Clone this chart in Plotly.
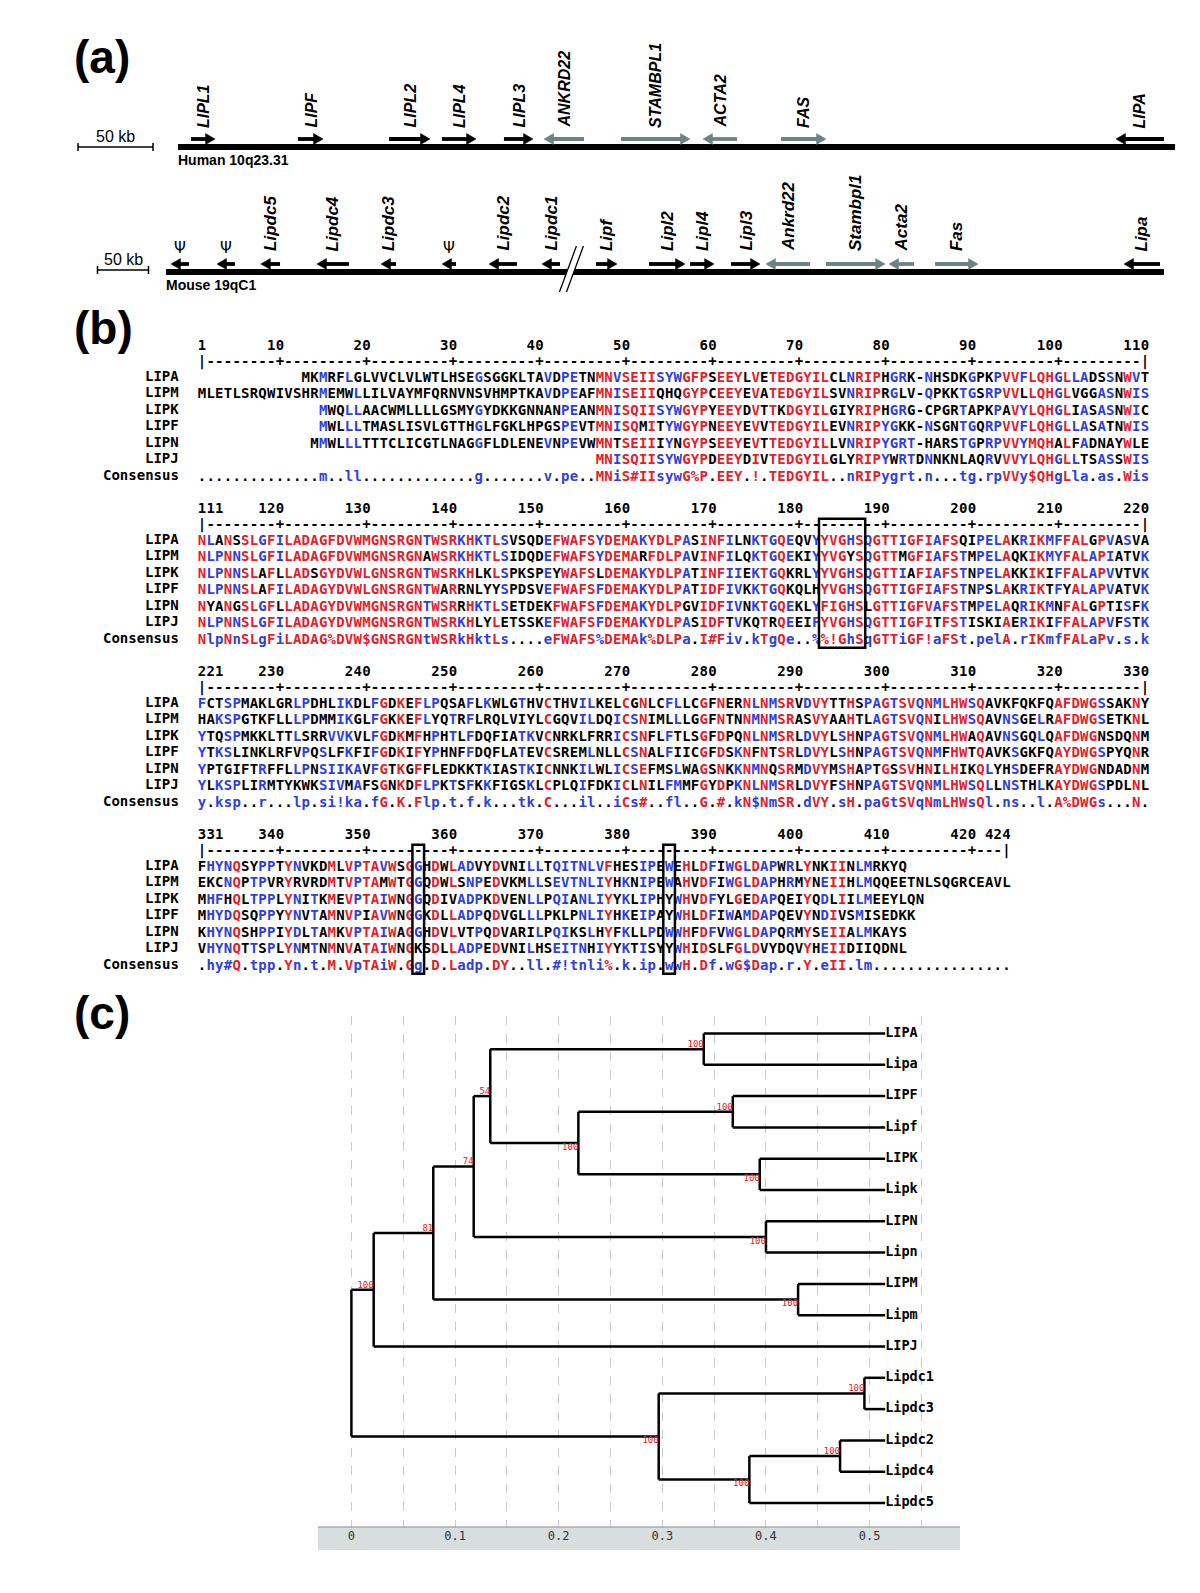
import plotly.graph_objects as go

FIG_W, FIG_H = 1200, 1593

# ======================= Panel (a): gene maps =======================
HUMAN_GENES = ["LIPL1", "LIPF", "LIPL2", "LIPL4", "LIPL3", "ANKRD22", "STAMBPL1", "ACTA2", "FAS", "LIPA"]
HUMAN_START_KB = [8.7, 80.0, 140.7, 176.0, 217.3, 244.0, 295.3, 350.0, 402.0, 625.3]
HUMAN_END_KB = [24.7, 96.7, 168.0, 198.7, 236.7, 270.7, 341.3, 372.7, 432.0, 657.3]
HUMAN_STRAND = ["+", "+", "+", "+", "+", "-", "+", "-", "+", "-"]
HUMAN_FLANKING = [False, False, False, False, False, True, True, True, True, False]
HUMAN_LENGTH_KB = 664.7

MOUSE_GENES = ["Ψ", "Ψ", "Lipdc5", "Lipdc4", "Lipdc3", "Ψ", "Lipdc2", "Lipdc1", "Lipf", "Lipl2",
               "Lipl4", "Lipl3", "Ankrd22", "Stambpl1", "Acta2", "Fas", "Lipa"]
MOUSE_START_KB = [4.9, 50.0, 93.0, 148.0, 210.8, 270.6, 316.7, 368.6, 421.6, 473.5,
                  513.7, 554.0, 588.2, 647.1, 708.8, 754.0, 939.2]
MOUSE_END_KB = [22.5, 67.6, 111.8, 179.4, 225.5, 284.3, 344.1, 386.3, 442.2, 508.8,
                537.3, 582.4, 631.4, 705.0, 733.3, 796.1, 974.5]
MOUSE_STRAND = ["-", "-", "-", "-", "-", "-", "-", "-", "+", "+", "+", "+", "-", "+", "-", "+", "-"]
MOUSE_FLANKING = [False] * 12 + [True, True, True, True, False]
MOUSE_LENGTH_KB = 978.4
MOUSE_BREAK_KB = 397.0
SCALE_BAR_KB = 50

# ======================= Panel (b): alignment =======================
SEQ_NAMES = ["LIPA", "LIPM", "LIPK", "LIPF", "LIPN", "LIPJ"]
SEQ_FIRST_COL = [13, 1, 15, 15, 14, 47]
BLOCK_STARTS = [1, 111, 221, 331]
BLOCK_ENDS = [110, 220, 330, 424]

LIPA_SEQ = [
    "MKMRFLGLVVCLVLWTLHSEGSGGKLTAVDPETNMNVSEIISYWGFPSEEYLVETEDGYILCLNRIPHGRK-NHSDKGPKPVVFLQHGLLADSSNWVT",
    "NLANSSLGFILADAGFDVWMGNSRGNTWSRKHKTLSVSQDEFWAFSYDEMAKYDLPASINFILNKTGQEQVYYVGHSQGTTIGFIAFSQIPELAKRIKMFFALGPVASVA",
    "FCTSPMAKLGRLPDHLIKDLFGDKEFLPQSAFLKWLGTHVCTHVILKELCGNLCFLLCGFNERNLNMSRVDVYTTHSPAGTSVQNMLHWSQAVKFQKFQAFDWGSSAKNY",
    "FHYNQSYPPTYNVKDMLVPTAVWSGGHDWLADVYDVNILLTQITNLVFHESIPEWEHLDFIWGLDAPWRLYNKIINLMRKYQ",
]
LIPM_SEQ = [
    "MLETLSRQWIVSHRMEMWLLILVAYMFQRNVNSVHMPTKAVDPEAFMNISEIIQHQGYPCEEYEVATEDGYILSVNRIPRGLV-QPKKTGSRPVVLLQHGLVGGASNWIS",
    "NLPNNSLGFILADAGFDVWMGNSRGNAWSRKHKTLSIDQDEFWAFSYDEMARFDLPAVINFILQKTGQEKIYYVGYSQGTTMGFIAFSTMPELAQKIKMYFALAPIATVK",
    "HAKSPGTKFLLLPDMMIKGLFGKKEFLYQTRFLRQLVIYLCGQVILDQICSNIMLLLGGFNTNNMNMSRASVYAAHTLAGTSVQNILHWSQAVNSGELRAFDWGSETKNL",
    "EKCNQPTPVRYRVRDMTVPTAMWTGGQDWLSNPEDVKMLLSEVTNLIYHKNIPEWAHVDFIWGLDAPHRMYNEIIHLMQQEETNLSQGRCEAVL",
]
LIPK_SEQ = [
    "MWQLLAACWMLLLLGSMYGYDKKGNNANPEANMNISQIISYWGYPYEEYDVTTKDGYILGIYRIPHGRG-CPGRTAPKPAVYLQHGLIASASNWIC",
    "NLPNNSLAFLLADSGYDVWLGNSRGNTWSRKHLKLSPKSPEYWAFSLDEMAKYDLPATINFIIEKTGQKRLYYVGHSQGTTIAFIAFSTNPELAKKIKIFFALAPVVTVK",
    "YTQSPMKKLTTLSRRVVKVLFGDKMFHPHTLFDQFIATKVCNRKLFRRICSNFLFTLSGFDPQNLNMSRLDVYLSHNPAGTSVQNMLHWAQAVNSGQLQAFDWGNSDQNM",
    "MHFHQLTPPLYNITKMEVPTAIWNGGQDIVADPKDVENLLPQIANLIYYKLIPHYWHVDFYLGEDAPQEIYQDLIILMEEYLQN",
]
LIPF_SEQ = [
    "MWLLLTMASLISVLGTTHGLFGKLHPGSPEVTMNISQMITYWGYPNEEYEVVTEDGYILEVNRIPYGKK-NSGNTGQRPVVFLQHGLLASATNWIS",
    "NLPNNSLAFILADAGYDVWLGNSRGNTWARRNLYYSPDSVEFWAFSFDEMAKYDLPATIDFIVKKTGQKQLHYVGHSQGTTIGFIAFSTNPSLAKRIKTFYALAPVATVK",
    "YTKSLINKLRFVPQSLFKFIFGDKIFYPHNFFDQFLATEVCSREMLNLLCSNALFIICGFDSKNFNTSRLDVYLSHNPAGTSVQNMFHWTQAVKSGKFQAYDWGSPYQNR",
    "MHYDQSQPPYYNVTAMNVPIAVWNGGKDLLADPQDVGLLLPKLPNLIYHKEIPAYWHLDFIWAMDAPQEVYNDIVSMISEDKK",
]
LIPN_SEQ = [
    "MMWLLLTTTCLICGTLNAGGFLDLENEVNPEVWMNTSEIIIYNGYPSEEYEVTTEDGYILLVNRIPYGRT-HARSTGPRPVVYMQHALFADNAYWLE",
    "NYANGSLGFLLADAGYDVWMGNSRGNTWSRRHKTLSETDEKFWAFSFDEMAKYDLPGVIDFIVNKTGQEKLYFIGHSLGTTIGFVAFSTMPELAQRIKMNFALGPTISFK",
    "YPTGIFTRFFLLPNSIIKAVFGTKGFFLEDKKTKIASTKICNNKILWLICSEFMSLWAGSNKKNMNQSRMDVYMSHAPTGSSVHNILHIKQLYHSDEFRAYDWGNDADNM",
    "KHYNQSHPPIYDLTAMKVPTAIWAGGHDVLVTPQDVARILPQIKSLHYFKLLPDWWHFDFVWGLDAPQRMYSEIIALMKAYS",
]
LIPJ_SEQ = [
    "MNISQIISYWGYPDEEYDIVTEDGYILGLYRIPYWRTDNNKNLAQRVVVYLQHGLLTSASSWIS",
    "NLPNNSLGFILADAGYDVWMGNSRGNTWSRKHLYLETSSKEFWAFSFDEMAKYDLPASIDFTVKQTRQEEIFYVGHSQGTTIGFITFSTISKIAERIKIFFALAPVFSTK",
    "YLKSPLIRMTYKWKSIVMAFSGNKDFLPKTSFKKFIGSKLCPLQIFDKICLNILFMMFGYDPKNLNMSRLDVYFSHNPAGTSVQNMLHWSQLLNSTHLKAYDWGSPDLNL",
    "VHYNQTTSPLYNMTNMNVATAIWNGKSDLLADPEDVNILHSEITNHIYYKTISYYWHIDSLFGLDVYDQVYHEIIDIIQDNL",
]
SEQ_BLOCKS = [LIPA_SEQ, LIPM_SEQ, LIPK_SEQ, LIPF_SEQ, LIPN_SEQ, LIPJ_SEQ]
CONSENSUS_BLOCKS = [
    "." * 14 + "m..ll" + "." * 13 + "g" + "." * 7 + "v.pe.."
    + "MNiS#IIsywG%P.EEY.!.TEDGYIL..nRIPygrt.n...tg.rpVVy$QHgLla.as.Wis",
    "NlpNnSLgFiLADAG%DVW$GNSRGNtWSRkHktLs....eFWAFS%DEM"
    + "Ak%DLPa.I#Fiv.kTgQe..%%!GhSqGTTiGF!aFSt.pelA.rIKmfFALaPv.s.k",
    "y.ksp..r...lp.si!ka.fG.K.Flp.t.f.k...tk.C...il..iCs#..fl..G.#.kN$NmSR.dVY.sH.paGtSVqNmLHWsQl.ns..l.A%DWGs...N.",
    ".hy#Q.tpp.Yn.t.M.VpTAiW.Gg.D.Ladp.DY..ll.#!tnli%.k.ip.wwH.Df.wG$Dap.r.Y.eII.lm" + "." * 16,
]
BOXED_COLUMNS = [(183, 187), (356, 356), (385, 385)]
CONSENSUS_CLASSES = {"!": "IV", "$": "LM", "%": "FY", "#": "NDQE"}

# ======================= Panel (c): tree =======================
LEAVES = ["LIPA", "Lipa", "LIPF", "Lipf", "LIPK", "Lipk", "LIPN", "Lipn", "LIPM", "Lipm",
          "LIPJ", "Lipdc1", "Lipdc3", "Lipdc2", "Lipdc4", "Lipdc5"]
LEAF_DEPTH = 0.515
NODE_NAMES = ["A", "F", "K", "FK", "AFK", "N", "AFKN", "M", "AFKNM", "J",
              "dc13", "dc24", "dc245", "dc", "root"]
NODE_CHILDREN = [["LIPA", "Lipa"], ["LIPF", "Lipf"], ["LIPK", "Lipk"], ["F", "K"], ["A", "FK"],
                 ["LIPN", "Lipn"], ["AFK", "N"], ["LIPM", "Lipm"], ["AFKN", "M"], ["AFKNM", "LIPJ"],
                 ["Lipdc1", "Lipdc3"], ["Lipdc2", "Lipdc4"], ["dc24", "Lipdc5"], ["dc13", "dc245"], ["J", "dc"]]
NODE_DEPTH = [0.340, 0.368, 0.394, 0.219, 0.134, 0.400, 0.118, 0.431, 0.079, 0.0215,
              0.495, 0.4715, 0.384, 0.2965, 0.0]
NODE_SUPPORT = [100, 100, 100, 100, 54, 100, 74, 100, 81, 100, 100, 100, 100, 100, None]
DIST_TICKS = [0, 0.05, 0.1, 0.15, 0.2, 0.25, 0.3, 0.35, 0.4, 0.45, 0.5, 0.55]
DIST_TICK_TEXT = ["0", "", "0.1", "", "0.2", "", "0.3", "", "0.4", "", "0.5", ""]

# ======================= styling / layout constants =======================
RED = "#e3202a"
BLUE = "#2d3fdc"
BLACK = "#000000"
GRAY = "#6b8384"
SANS = "Liberation Sans, Arial, sans-serif"
MONO = "DejaVu Sans Mono, monospace"

HUMAN_X0_PX, HUMAN_PX_PER_KB = 178.0, 1.5
MOUSE_X0_PX, MOUSE_PX_PER_KB = 166.0, 1.02
HUMAN_LINE_Y, HUMAN_ARROW_Y, HUMAN_LABEL_Y = 147, 139, 130
MOUSE_LINE_Y, MOUSE_ARROW_Y, MOUSE_LABEL_Y = 272, 264, 253
HEAD_LEN_PX, HEAD_HALF_PX, SHAFT_W = 9.5, 5.5, 3.8

CW, X_COL0 = 8.65, 202.0
ROW0_Y, BLOCK_DY, ROW_DY = 376.0, 163.0, 16.45
SEQ_FONT = 14
TEXT_DY = 2.5

TREE_X0_PX, TREE_PX_PER_UNIT = 351.4, 1036.4
TREE_LEFT_PX, TREE_RIGHT_PX = 318.0, 960.0
TREE_TOP_PX, TREE_BOTTOM_PX, BAR_BOTTOM_PX = 1016.0, 1527.0, 1550.0
LEAF0_Y_PX, LEAF_DY_PX = 1033.5, 31.3

fig = go.Figure()
shapes = []
annotations = []

# ---------------- panel labels ----------------
for lab, ypx in [("(a)", 57), ("(b)", 328), ("(c)", 1013)]:
    annotations.append(dict(x=72, y=ypx, xref="x", yref="y", text=lab, showarrow=False,
                            xanchor="left", yanchor="middle",
                            font=dict(family=SANS, size=46, color=BLACK, weight="bold")))


# ---------------- gene maps ----------------
def draw_map(axis, x0px, ppk, genes, starts, ends, strands, flank, length, line_y, arrow_y, label_y,
             label_size, bar_px, bar_y, chrom_text, chrom_y):
    fig.add_trace(go.Scatter(x=[0, length], y=[line_y, line_y], xaxis=axis, yaxis="y", mode="lines",
                             line=dict(color=BLACK, width=6), hoverinfo="skip", showlegend=False))
    head = HEAD_LEN_PX / ppk
    for g, s, e, st, fl in zip(genes, starts, ends, strands, flank):
        col = GRAY if fl else BLACK
        if st == "+":
            tail, tip, d = s, e, 1
        else:
            tail, tip, d = e, s, -1
        base = tip - d * head
        shapes.append(dict(type="line", xref=axis, yref="y", x0=tail, x1=base + d * 1.0 / ppk,
                           y0=arrow_y, y1=arrow_y, line=dict(color=col, width=SHAFT_W)))
        shapes.append(dict(type="path", xref=axis, yref="y",
                           path=f"M{tip},{arrow_y} L{base},{arrow_y - HEAD_HALF_PX} L{base},{arrow_y + HEAD_HALF_PX} Z",
                           fillcolor=col, line=dict(color=col, width=0.5)))
        mid = (s + e) / 2
        if g == "Ψ":
            annotations.append(dict(x=mid, y=label_y - 5, xref=axis, yref="y", text="Ψ", showarrow=False,
                                    xanchor="center", yanchor="middle",
                                    font=dict(family="DejaVu Sans, sans-serif", size=15, color=BLACK)))
        else:
            annotations.append(dict(x=mid, y=label_y, xref=axis, yref="y", text=g, showarrow=False,
                                    textangle=-90, xanchor="center", yanchor="bottom",
                                    font=dict(family=SANS, size=label_size, color=BLACK,
                                              weight="bold", style="italic")))
    # scale bar (50 kb)
    bar0 = (bar_px - x0px) / ppk
    bar1 = bar0 + SCALE_BAR_KB
    shapes.append(dict(type="line", xref=axis, yref="y", x0=bar0, x1=bar1, y0=bar_y, y1=bar_y,
                       line=dict(color=BLACK, width=1.5)))
    for xb in (bar0, bar1):
        shapes.append(dict(type="line", xref=axis, yref="y", x0=xb, x1=xb, y0=bar_y - 4, y1=bar_y + 4,
                           line=dict(color=BLACK, width=1.5)))
    annotations.append(dict(x=(bar0 + bar1) / 2, y=bar_y - 11, xref=axis, yref="y", text="50 kb",
                            showarrow=False, xanchor="center", yanchor="middle",
                            font=dict(family=SANS, size=16, color=BLACK)))
    annotations.append(dict(x=-2.0 / ppk, y=chrom_y, xref=axis, yref="y", text=chrom_text, showarrow=False,
                            xanchor="left", yanchor="middle",
                            font=dict(family=SANS, size=14, color=BLACK, weight="bold")))


draw_map("x3", HUMAN_X0_PX, HUMAN_PX_PER_KB, HUMAN_GENES, HUMAN_START_KB, HUMAN_END_KB, HUMAN_STRAND,
         HUMAN_FLANKING, HUMAN_LENGTH_KB, HUMAN_LINE_Y, HUMAN_ARROW_Y, HUMAN_LABEL_Y, 16,
         78.0, 147, "Human 10q23.31", 160)
draw_map("x4", MOUSE_X0_PX, MOUSE_PX_PER_KB, MOUSE_GENES, MOUSE_START_KB, MOUSE_END_KB, MOUSE_STRAND,
         MOUSE_FLANKING, MOUSE_LENGTH_KB, MOUSE_LINE_Y, MOUSE_ARROW_Y, MOUSE_LABEL_Y, 17,
         97.5, 270, "Mouse 19qC1", 285)

# break mark "//" on the mouse map
dx_top, dx_bot = 9.0 / MOUSE_PX_PER_KB, -8.0 / MOUSE_PX_PER_KB
gap = 7.0 / MOUSE_PX_PER_KB
bk = MOUSE_BREAK_KB
shapes.append(dict(type="path", xref="x4", yref="y",
                   path=(f"M{bk + dx_bot - gap / 2},{MOUSE_LINE_Y + 20} L{bk + dx_top - gap / 2},{MOUSE_LINE_Y - 26} "
                         f"L{bk + dx_top + gap / 2},{MOUSE_LINE_Y - 26} L{bk + dx_bot + gap / 2},{MOUSE_LINE_Y + 20} Z"),
                   fillcolor="white", line=dict(width=0)))
for off in (-gap / 2, gap / 2):
    shapes.append(dict(type="line", xref="x4", yref="y", x0=bk + dx_bot + off, x1=bk + dx_top + off,
                       y0=MOUSE_LINE_Y + 20, y1=MOUSE_LINE_Y - 26, line=dict(color=BLACK, width=1.3)))

# ---------------- alignment ----------------
TOTAL = BLOCK_ENDS[-1]
aligned = []
for first, blocks in zip(SEQ_FIRST_COL, SEQ_BLOCKS):
    arr = [" "] * TOTAL
    for bi, s in enumerate(blocks):
        start = first if bi == 0 else BLOCK_STARTS[bi]
        for k, ch in enumerate(s):
            c = start + k
            if c <= BLOCK_ENDS[bi]:
                arr[c - 1] = ch
    aligned.append(arr)

consensus = [" "] * TOTAL
for bi, s in enumerate(CONSENSUS_BLOCKS):
    for k, ch in enumerate(s):
        c = BLOCK_STARTS[bi] + k
        if c <= BLOCK_ENDS[bi]:
            consensus[c - 1] = ch


def column_level(c):
    ch = consensus[c - 1]
    if ch in (".", " "):
        return None
    if ch in CONSENSUS_CLASSES:
        members = CONSENSUS_CLASSES[ch]
        return "high" if all(a[c - 1] in members for a in aligned) else "low"
    return "high" if ch.isupper() else "low"


def residue_color(r, c):
    cons = consensus[c - 1]
    lv = column_level(c)
    if lv is None or not r.isalpha():
        return BLACK
    colr = RED if lv == "high" else BLUE
    if cons in CONSENSUS_CLASSES:
        return colr if r in CONSENSUS_CLASSES[cons] else BLACK
    if r == cons.upper():
        return colr
    if cons.islower():
        for mem in CONSENSUS_CLASSES.values():
            if cons.upper() in mem and r in mem:
                return colr
    return BLACK


pts = {BLACK: ([], [], []), RED: ([], [], []), BLUE: ([], [], [])}


def put(color, x, y, ch):
    if ch == " ":
        return
    pts[color][0].append(x)
    pts[color][1].append(y + TEXT_DY)
    pts[color][2].append(ch)


for bi, (bs, be) in enumerate(zip(BLOCK_STARTS, BLOCK_ENDS)):
    y0 = ROW0_Y + bi * BLOCK_DY
    ruler_y = y0 - 16.3
    num_y = y0 - 32.5

    def colx(c):
        return X_COL0 + (c - bs) * CW

    labels = [(bs, str(bs), "left")]
    for c in range(bs + 1, be + 1):
        if c % 10 == 0 or c == be:
            labels.append((c, str(c), "right"))
    for c, s, al in labels:
        for k, ch in enumerate(s):
            cc = c + k if al == "left" else c - (len(s) - 1 - k)
            put(BLACK, colx(cc), num_y, ch)
    for c in range(bs, be + 1):
        ch = "|" if c in (bs, be) else ("+" if c % 10 == 0 else "-")
        put(BLACK, colx(c), ruler_y, ch)
    for si, arr in enumerate(aligned):
        ry = y0 + si * ROW_DY
        for c in range(bs, be + 1):
            put(residue_color(arr[c - 1], c), colx(c), ry, arr[c - 1])
    cy = y0 + len(aligned) * ROW_DY
    for c in range(bs, be + 1):
        lv = column_level(c)
        put(BLACK if lv is None else (RED if lv == "high" else BLUE), colx(c), cy, consensus[c - 1])
    for si, name in enumerate(SEQ_NAMES + ["Consensus"]):
        annotations.append(dict(x=181, y=y0 + si * ROW_DY, xref="x", yref="y", text=name, showarrow=False,
                                xanchor="right", yanchor="middle",
                                font=dict(family=MONO, size=14, color=BLACK, weight="bold")))
    for (c0, c1) in BOXED_COLUMNS:
        if bs <= c0 <= be:
            shapes.append(dict(type="rect", xref="x", yref="y",
                               x0=colx(c0) - CW / 2 - 1.5, x1=colx(c1) + CW / 2 + 1.5,
                               y0=ruler_y - 4, y1=cy + 10, line=dict(color=BLACK, width=2.5)))

for color, (xs, ys, ts) in pts.items():
    fig.add_trace(go.Scatter(x=xs, y=ys, text=ts, mode="text", textposition="middle center",
                             textfont=dict(family=MONO, size=SEQ_FONT, color=color, weight="bold"),
                             xaxis="x", yaxis="y", hoverinfo="skip", showlegend=False))

# ---------------- tree ----------------
pos_y = {name: float(i) for i, name in enumerate(LEAVES)}
pos_x = {name: LEAF_DEPTH for name in LEAVES}
parent_of = {}
for name, kids, depth in zip(NODE_NAMES, NODE_CHILDREN, NODE_DEPTH):
    pos_y[name] = sum(pos_y[k] for k in kids) / len(kids)
    pos_x[name] = depth
    for i, k in enumerate(kids):
        parent_of[k] = (name, i)

tx, ty = [], []
for name, kids in zip(NODE_NAMES, NODE_CHILDREN):
    d = pos_x[name]
    tx += [d, d, None]
    ty += [pos_y[kids[0]], pos_y[kids[-1]], None]
    for k in kids:
        tx += [d, pos_x[k], None]
        ty += [pos_y[k], pos_y[k], None]
fig.add_trace(go.Scatter(x=tx, y=ty, mode="lines", line=dict(color=BLACK, width=2.5),
                         xaxis="x2", yaxis="y2", hoverinfo="skip", showlegend=False))

fig.add_trace(go.Scatter(x=[LEAF_DEPTH] * len(LEAVES), y=[pos_y[l] for l in LEAVES], text=LEAVES,
                         mode="text", textposition="middle right",
                         textfont=dict(family=MONO, size=13.5, color=BLACK, weight="bold"),
                         xaxis="x2", yaxis="y2", hoverinfo="skip", showlegend=False))

bx, by, bt, bp = [], [], [], []
for name, sup in zip(NODE_NAMES, NODE_SUPPORT):
    if sup is None:
        continue
    par, idx = parent_of[name]
    bx.append(pos_x[name])
    by.append(pos_y[name])
    bt.append(str(sup))
    bp.append("top left" if idx == 0 else "bottom left")
fig.add_trace(go.Scatter(x=bx, y=by, text=bt, mode="text", textposition=bp,
                         textfont=dict(family=MONO, size=9, color=RED),
                         xaxis="x2", yaxis="y2", hoverinfo="skip", showlegend=False))

shapes.append(dict(type="rect", xref="paper", yref="paper", layer="below",
                   x0=TREE_LEFT_PX / FIG_W, x1=TREE_RIGHT_PX / FIG_W,
                   y0=1 - BAR_BOTTOM_PX / FIG_H, y1=1 - TREE_BOTTOM_PX / FIG_H,
                   fillcolor="#d8dede", line=dict(width=0)))
shapes.append(dict(type="line", xref="paper", yref="paper",
                   x0=TREE_LEFT_PX / FIG_W, x1=TREE_RIGHT_PX / FIG_W,
                   y0=1 - TREE_BOTTOM_PX / FIG_H, y1=1 - TREE_BOTTOM_PX / FIG_H,
                   line=dict(color="#8a9090", width=1)))

x2_range = [(TREE_LEFT_PX - TREE_X0_PX) / TREE_PX_PER_UNIT, (TREE_RIGHT_PX - TREE_X0_PX) / TREE_PX_PER_UNIT]
y2_range = [(TREE_BOTTOM_PX - LEAF0_Y_PX) / LEAF_DY_PX, (TREE_TOP_PX - LEAF0_Y_PX) / LEAF_DY_PX]

fig.update_layout(
    width=FIG_W, height=FIG_H,
    margin=dict(l=0, r=0, t=0, b=0),
    paper_bgcolor="white", plot_bgcolor="rgba(0,0,0,0)",
    showlegend=False,
    xaxis=dict(range=[0, FIG_W], domain=[0, 1], visible=False, fixedrange=True),
    yaxis=dict(range=[FIG_H, 0], domain=[0, 1], visible=False, fixedrange=True),
    xaxis3=dict(range=[-HUMAN_X0_PX / HUMAN_PX_PER_KB, (FIG_W - HUMAN_X0_PX) / HUMAN_PX_PER_KB],
                domain=[0, 1], overlaying="x", anchor="y", visible=False, fixedrange=True),
    xaxis4=dict(range=[-MOUSE_X0_PX / MOUSE_PX_PER_KB, (FIG_W - MOUSE_X0_PX) / MOUSE_PX_PER_KB],
                domain=[0, 1], overlaying="x", anchor="y", visible=False, fixedrange=True),
    xaxis2=dict(range=x2_range, domain=[TREE_LEFT_PX / FIG_W, TREE_RIGHT_PX / FIG_W], anchor="y2",
                tickvals=DIST_TICKS, ticktext=DIST_TICK_TEXT, ticks="", showline=False,
                showgrid=True, gridcolor="#c9c9c9", griddash="dash", gridwidth=1, zeroline=False,
                tickfont=dict(family=MONO, size=12, color="#333333"), fixedrange=True),
    yaxis2=dict(range=y2_range, domain=[1 - TREE_BOTTOM_PX / FIG_H, 1 - TREE_TOP_PX / FIG_H],
                anchor="x2", visible=False, fixedrange=True),
    shapes=shapes,
    annotations=annotations,
)

fig.write_html("out.html", config={"displayModeBar": False},
               post_script="document.body.style.margin='0px';")
